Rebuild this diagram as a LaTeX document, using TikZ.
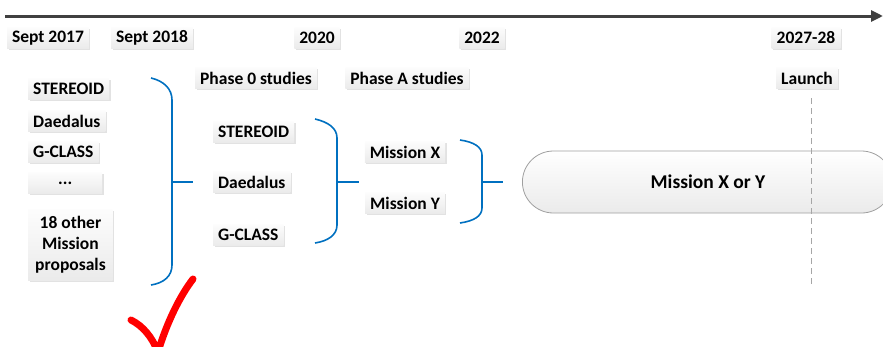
\documentclass[tikz,border=0pt]{standalone}
\usepackage{fontspec}
\setmainfont{Carlito}
\usepackage{tikz}
\usetikzlibrary{arrows.meta, positioning, shadows}

\definecolor{braceblue}{RGB}{0,112,192}
\definecolor{axisgray}{RGB}{64,64,64}

\tikzset{
  tag/.style={font=\fontsize{17.5}{21}\selectfont\bfseries, inner xsep=5pt, inner ysep=2pt,
    minimum height=21pt, top color=gray!2, bottom color=gray!16,
    drop shadow={shadow xshift=1.5pt, shadow yshift=-1.5pt, fill=gray!45, opacity=0.5}},
  brace/.style={braceblue, line width=1.6pt},
}

\begin{document}
\begin{tikzpicture}[x=1pt, y=-1pt, >=Stealth]
  \clip (0,0) rectangle (883,346);
  % time axis
  \draw[axisgray, line width=3pt, -{Triangle[length=12pt, width=11pt]}] (5,16) -- (883,16);
  % dates along the axis
  \node[tag] (t17) at (48,38) {Sept 2017};
  \node[tag] (t18) at (152,38) {Sept 2018};
  \node[tag] (t20) at (317,38) {2020};
  \node[tag] (t22) at (482,38) {2022};
  \node[tag] (t27) at (806,38) {2027-28};
  % phases
  \node[tag] (ph0) at (256,78) {Phase 0 studies};
  \node[tag] (phA) at (407,78) {Phase A studies};
  \node[tag] (launch) at (807,78) {Launch};
  % all proposals
  \node[tag, anchor=west] (p1) at (28,89) {STEREOID};
  \node[tag, anchor=west] (p2) at (28,121) {Daedalus};
  \node[tag, anchor=west] (p3) at (28,152) {G-CLASS};
  \node[tag, anchor=west, minimum width=74pt] (p4) at (28,183) {...};
  \node[tag, anchor=west, align=center, inner xsep=7pt, inner ysep=7pt] (p5) at (28,245)
    {18 other\\Mission\\proposals};
  % Phase 0 candidates
  \node[tag, anchor=west] (c1) at (213,132) {STEREOID};
  \node[tag, anchor=west] (c2) at (213,182) {Daedalus};
  \node[tag, anchor=west] (c3) at (213,235) {G-CLASS};
  % Phase A candidates
  \node[tag] (mx) at (405,152) {Mission X};
  \node[tag] (my) at (405,203) {Mission Y};
  % selected mission
  \node[draw=gray!75, line width=0.8pt, rounded corners=31pt, top color=white,
    bottom color=gray!16, minimum width=370pt, minimum height=62pt, anchor=west]
    (sel) at (522,182) {};
  \node[font=\fontsize{19.5}{22}\selectfont\bfseries] (seltext) at (708,182) {Mission X or Y};
  % braces
  \draw[brace] (151,78) .. controls (164,81) and (172,89) .. (172,100) -- (172,265)
    .. controls (172,276) and (164,283) .. (151,285);
  \draw[brace] (172,182) -- (193,182);
  \draw[brace] (315,119) .. controls (328,122) and (337,128) .. (337,138) -- (337,225)
    .. controls (337,235) and (328,241) .. (315,243);
  \draw[brace] (337,182) -- (359,182);
  \draw[brace] (460,140) .. controls (474,142) and (482,147) .. (482,155) -- (482,208)
    .. controls (482,216) and (474,221) .. (460,223);
  \draw[brace] (482,182) -- (503,182);
  % launch date
  \draw[gray!70, line width=1pt, dash pattern=on 6pt off 4pt] (811,98) -- (811,285);
  % tick
  \draw[red, line width=7pt, line cap=round, line join=round]
    (131,320) .. controls (143,326) and (152,337) .. (158,352)
    .. controls (167,322) and (180,296) .. (193,279);
\end{tikzpicture}
\end{document}
